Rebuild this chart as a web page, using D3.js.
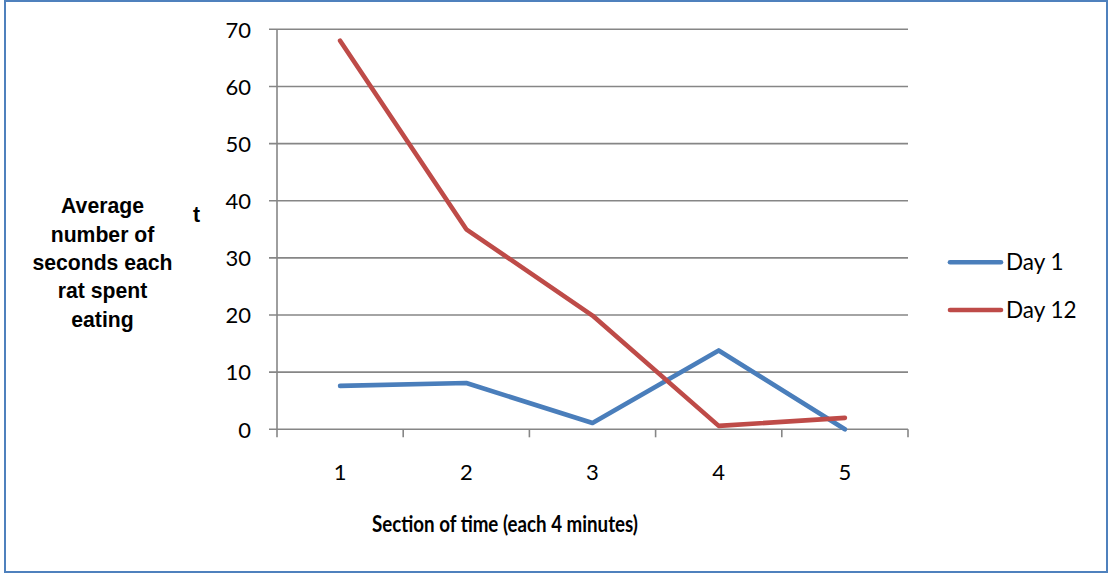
<!DOCTYPE html>
<html>
<head>
<meta charset="utf-8">
<script src="https://cdn.jsdelivr.net/npm/d3@7"></script>
<style>
  html, body { margin: 0; padding: 0; background: #fff; }
  svg { display: block; }
</style>
</head>
<body>
<svg id="chart" width="1108" height="573"></svg>
<script>
const categories = ["1", "2", "3", "4", "5"];
const day1 = [7.6, 8.1, 1.1, 13.8, 0];
const day12 = [68, 35, 19.9, 0.6, 2.0];
const seriesNames = ["Day 1", "Day 12"];
const seriesColors = ["#4a7ebb", "#be4b48"];
const yTicks = [0, 10, 20, 30, 40, 50, 60, 70];
const yLabelLines = ["Average", "number of", "seconds each", "rat spent", "eating"];
const xTitle = "Section of time (each 4 minutes)";

const svg = d3.select("#chart");

// outer border
svg.append("rect")
  .attr("x", 5).attr("y", 1).attr("width", 1102).attr("height", 571)
  .attr("fill", "#fff").attr("stroke", "#4f81bd").attr("stroke-width", 2);

const plot = { left: 277, right: 908, top: 29.3, bottom: 429.3 };

const x = d3.scaleBand().domain(categories).range([plot.left, plot.right]).padding(0);
const y = d3.scaleLinear().domain([0, 70]).range([plot.bottom, plot.top]);

const gridColor = "#868686";

// gridlines
svg.append("g").selectAll("line").data(yTicks).join("line")
  .attr("x1", plot.left - 8).attr("x2", plot.right)
  .attr("y1", d => y(d)).attr("y2", d => y(d))
  .attr("stroke", gridColor).attr("stroke-width", 1.6);

// y axis line
svg.append("line")
  .attr("x1", plot.left).attr("x2", plot.left)
  .attr("y1", y(70)).attr("y2", y(0))
  .attr("stroke", gridColor).attr("stroke-width", 1.6);

// x tick marks at band boundaries
const bounds = categories.map(c => x(c)).concat([x(categories[categories.length - 1]) + x.bandwidth()]);
svg.append("g").selectAll("line").data(bounds).join("line")
  .attr("x1", d => d).attr("x2", d => d)
  .attr("y1", y(0)).attr("y2", y(0) + 8)
  .attr("stroke", gridColor).attr("stroke-width", 1.6);

// y tick labels
svg.append("g").selectAll("text").data(yTicks).join("text")
  .attr("x", 251).attr("y", d => y(d) + 8.3)
  .attr("text-anchor", "end")
  .attr("font-family", "Lato, sans-serif").attr("font-size", 22)
  .attr("fill", "#000")
  .text(d => d);

// x tick labels
svg.append("g").selectAll("text").data(categories).join("text")
  .attr("x", d => x(d) + x.bandwidth() / 2).attr("y", 480)
  .attr("text-anchor", "middle")
  .attr("font-family", "Lato, sans-serif").attr("font-size", 22)
  .attr("fill", "#000")
  .text(d => d);

// lines
const line = d3.line()
  .x((d, i) => x(categories[i]) + x.bandwidth() / 2)
  .y(d => y(d));

[day1, day12].forEach((s, i) => {
  svg.append("path")
    .datum(s)
    .attr("d", line)
    .attr("fill", "none")
    .attr("stroke", seriesColors[i])
    .attr("stroke-width", 4.6)
    .attr("stroke-linecap", "round")
    .attr("stroke-linejoin", "round");
});

// legend
const legendY = [262.3, 310];
seriesNames.forEach((name, i) => {
  svg.append("line")
    .attr("x1", 950).attr("x2", 1001)
    .attr("y1", legendY[i]).attr("y2", legendY[i])
    .attr("stroke", seriesColors[i]).attr("stroke-width", 4.6)
    .attr("stroke-linecap", "round");
  svg.append("text")
    .attr("x", 1006).attr("y", legendY[i] + 8)
    .attr("font-family", "Lato, sans-serif").attr("font-size", 22.5)
    .attr("fill", "#000")
    .text(name);
});

// y axis label
const yl = svg.append("text")
  .attr("font-family", "'Liberation Sans', Arial, sans-serif")
  .attr("font-weight", "bold").attr("font-size", 21.2)
  .attr("text-anchor", "middle").attr("fill", "#000");
yLabelLines.forEach((t, i) => {
  yl.append("tspan").attr("x", 102.5).attr("y", 213.3 + i * 28.35).text(t);
});

// stray "t"
svg.append("text")
  .attr("x", 196.5).attr("y", 221.7)
  .attr("text-anchor", "middle")
  .attr("font-family", "'Liberation Sans', Arial, sans-serif")
  .attr("font-weight", "bold").attr("font-size", 21.2)
  .attr("fill", "#000")
  .text("t");

// x axis title
svg.append("text")
  .attr("x", 505).attr("y", 531.7)
  .attr("text-anchor", "middle")
  .attr("font-family", "Lato, sans-serif").attr("font-weight", "bold").attr("font-size", 23)
  .attr("textLength", 266).attr("lengthAdjust", "spacingAndGlyphs")
  .attr("fill", "#000")
  .text(xTitle);
</script>
</body>
</html>
